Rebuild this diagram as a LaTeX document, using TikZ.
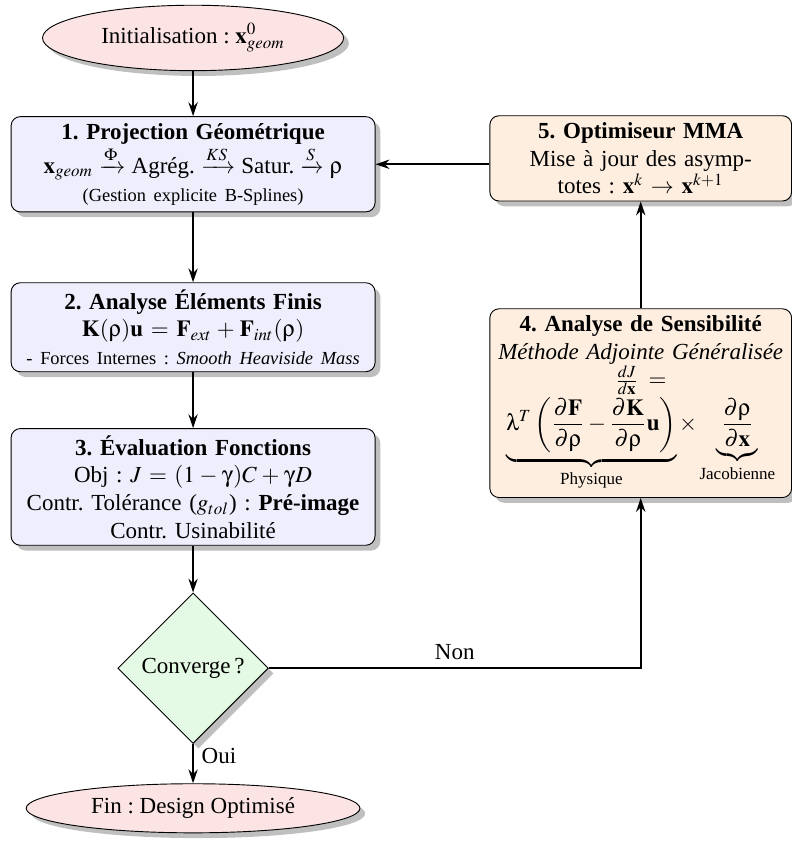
\documentclass[tikz,border=0pt]{standalone}
\usepackage{amsmath}
\usepackage[no-math]{fontspec}
\usepackage{mathptmx}
\usepackage[Symbol]{upgreek}
\setmainfont{Liberation Serif}
\usetikzlibrary{shapes.geometric, arrows.meta, positioning, shadows}
\frenchspacing

\definecolor{initred}{RGB}{253, 228, 228}
\definecolor{stepblue}{RGB}{238, 238, 252}
\definecolor{optorange}{RGB}{253, 238, 224}
\definecolor{testgreen}{RGB}{228, 250, 228}

\begin{document}
\begin{tikzpicture}[
  flowarrow/.style={-{Stealth[length=6pt, width=4pt]}, thick},
  stepbox/.style={draw, rounded corners=4pt, drop shadow, align=center, inner sep=3pt},
  terminal/.style={draw, ellipse, fill=initred, drop shadow, inner sep=1pt},
  decision/.style={draw, diamond, aspect=1, fill=testgreen, drop shadow, inner sep=1pt, minimum width=2.3cm, minimum height=2.3cm}
]
  \useasboundingbox (0,0) rectangle (12.1,-12.85);

  % Start
  \node[terminal, minimum width=4.6cm, minimum height=1cm] (init) at (2.95,-0.58) {Initialisation : $\mathbf{x}^0_{geom}$};

  % Main chain
  \node[stepbox, fill=stepblue, text width=5.35cm] (proj) at (2.95,-2.51) {
    \textbf{1. Projection Géométrique}\\
    $\mathbf{x}_{geom} \xrightarrow{\Phi} \text{Agrég.} \xrightarrow{KS} \text{Satur.} \xrightarrow{S} \uprho$\\
    {\footnotesize (Gestion explicite B-Splines)}
  };

  \node[stepbox, fill=stepblue, text width=5.35cm] (fem) at (2.95,-5.0) {
    \textbf{2. Analyse Éléments Finis}\\
    $\mathbf{K}(\uprho)\mathbf{u} = \mathbf{F}_{ext} + \mathbf{F}_{int}(\uprho)$\\
    {\footnotesize - Forces Internes : \textit{Smooth Heaviside Mass}}
  };

  \node[stepbox, fill=stepblue, text width=5.35cm] (eval) at (2.95,-7.44) {
    \textbf{3. Évaluation Fonctions}\\
    Obj : $J = (1-\upgamma)C + \upgamma D$\\
    Contr. Tolérance ($g_{tol}$) : \textbf{Pré-image}\\
    Contr. Usinabilité
  };

  % Test
  \node[decision] (conv) at (2.95,-10.21) {Converge\,?};

  % End
  \node[terminal, minimum width=5.1cm, minimum height=0.75cm] (fin) at (2.95,-12.35) {Fin : Design Optimisé};

  % Loop back
  \node[stepbox, fill=optorange, text width=4.4cm] (sens) at (9.79,-6.16) {
    \textbf{4. Analyse de Sensibilité}\\
    \textit{Méthode Adjointe Généralisée}\\
    $\frac{dJ}{d\mathbf{x}} =$\\
    $\displaystyle \underbrace{\uplambda^T \left(\frac{\partial \mathbf{F}}{\partial \uprho} - \frac{\partial \mathbf{K}}{\partial \uprho}\mathbf{u}\right)}_{\text{Physique}} \times \underbrace{\frac{\partial \uprho}{\partial \mathbf{x}}}_{\text{Jacobienne}}$
  };

  \node[stepbox, fill=optorange, text width=4.4cm] (opt) at (9.79,-2.42) {
    \textbf{5. Optimiseur MMA}\\
    Mise à jour des asymp-\\
    totes : $\mathbf{x}^k \rightarrow \mathbf{x}^{k+1}$
  };

  % Connectors
  \draw[flowarrow] (init) -- (proj);
  \draw[flowarrow] (proj) -- (fem);
  \draw[flowarrow] (fem) -- (eval);
  \draw[flowarrow] (eval) -- (conv);
  \draw[flowarrow] (conv) -- node[right, pos=0.3] {Oui} (fin);
  \draw[flowarrow] (conv.east) -| node[above, pos=0.25] {Non} (sens.south);
  \draw[flowarrow] (sens) -- (opt);
  \draw[flowarrow] (opt.west |- proj.east) -- (proj.east);
\end{tikzpicture}
\end{document}
